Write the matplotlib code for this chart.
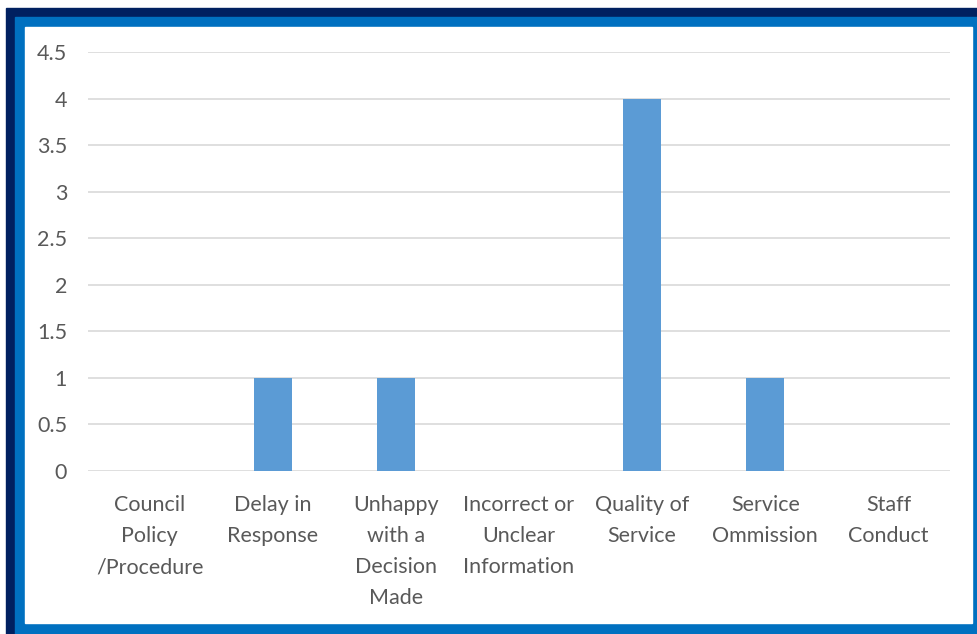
import matplotlib.pyplot as plt
from matplotlib.patches import Rectangle

categories = ["Council\nPolicy\n/Procedure", "Delay in\nResponse", "Unhappy\nwith a\nDecision\nMade",
              "Incorrect or\nUnclear\nInformation", "Quality of\nService", "Service\nOmmission",
              "Staff\nConduct"]
counts = [0, 1, 1, 0, 4, 1, 0]
yticks = [0, 0.5, 1, 1.5, 2, 2.5, 3, 3.5, 4, 4.5]
ytick_labels = ["0", "0.5", "1", "1.5", "2", "2.5", "3", "3.5", "4", "4.5"]

W, H = 977, 634
plt.rcParams['font.family'] = ['Lato', 'DejaVu Sans']
fig = plt.figure(figsize=(W / 100, H / 100), dpi=100)
fig.patch.set_facecolor('white')

# frame: navy outer band, blue inner band, white panel
def box(x0, y0, x1, y1, color):
    fig.patches.append(Rectangle((x0 / W, 1 - y1 / H), (x1 - x0) / W, (y1 - y0) / H,
                                 transform=fig.transFigure, color=color, zorder=-10))

box(6, 8, W, H, '#002060')
box(15, 17, W, H, '#0070c0')
box(25, 27, 972, 623, 'white')

ax = fig.add_axes([88 / W, (H - 471) / H, (950 - 88) / W, (471 - 52) / H])
ax.set_facecolor('none')
x = list(range(len(categories)))
ax.bar(x, counts, width=0.31, color='#5b9bd5', zorder=3)
ax.set_xlim(-0.5, len(categories) - 0.5)
ax.set_ylim(0, 4.5)
ax.set_yticks(yticks)
ax.set_yticklabels(ytick_labels)
ax.set_xticks(x)
ax.set_xticklabels(categories, linespacing=1.7)
ax.grid(axis='y', color='#d9d9d9', linewidth=1.2, zorder=0)
for s in ax.spines.values():
    s.set_visible(False)
ax.tick_params(axis='both', length=0, labelsize=15.5, labelcolor='#595959')
ax.tick_params(axis='y', pad=15)
ax.tick_params(axis='x', pad=17)

fig.savefig('out.png', dpi=100)
